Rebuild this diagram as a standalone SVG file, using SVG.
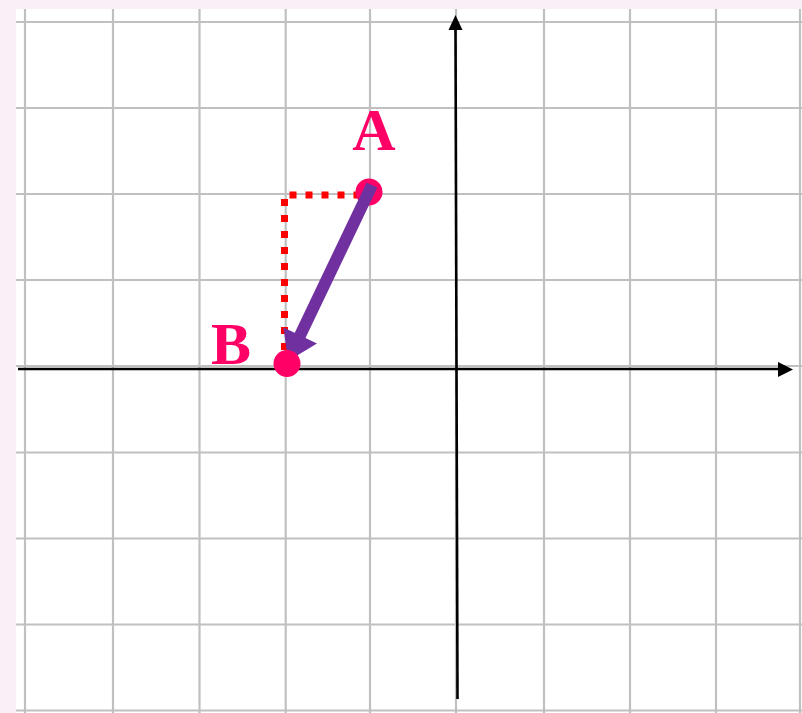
<svg xmlns="http://www.w3.org/2000/svg" width="802" height="713" viewBox="0 0 802 713">
<style>
.grid line{stroke:#c0c0c0;stroke-width:2.2}
.axis{stroke:#000;stroke-width:2.6;fill:none}
.lbl{font-family:"Liberation Serif","Times New Roman",serif;font-weight:bold;font-size:60px;fill:#ff0066}
.pt{fill:#ff0066}
</style>
<rect x="0" y="0" width="802" height="713" fill="#f9eff6"/>
<rect x="16" y="9" width="786" height="704" fill="#ffffff"/>
<g id="grid" class="grid">
<line x1="25" y1="9" x2="25" y2="713"/>
<line x1="113" y1="9" x2="113" y2="713"/>
<line x1="199.5" y1="9" x2="199.5" y2="713"/>
<line x1="285.7" y1="9" x2="285.7" y2="713"/>
<line x1="370" y1="9" x2="370" y2="713"/>
<line x1="456" y1="9" x2="456" y2="713"/>
<line x1="544" y1="9" x2="544" y2="713"/>
<line x1="630" y1="9" x2="630" y2="713"/>
<line x1="716" y1="9" x2="716" y2="713"/>
<line x1="800" y1="9" x2="800" y2="713"/>
<line x1="16" y1="22" x2="802" y2="22"/>
<line x1="16" y1="108" x2="802" y2="108"/>
<line x1="16" y1="194" x2="802" y2="194"/>
<line x1="16" y1="280" x2="802" y2="280"/>
<line x1="16" y1="366" x2="802" y2="366"/>
<line x1="16" y1="452.5" x2="802" y2="452.5"/>
<line x1="16" y1="538.5" x2="802" y2="538.5"/>
<line x1="16" y1="624.5" x2="802" y2="624.5"/>
<line x1="16" y1="710.5" x2="802" y2="710.5"/>
</g>
<g id="axes">
<line class="axis" x1="18" y1="369" x2="780" y2="369"/>
<polygon points="793,369.5 778,362 778,377" fill="#000"/>
<line class="axis" x1="457.5" y1="699" x2="455.5" y2="28"/>
<polygon points="455.5,15 448.5,30 462.5,30" fill="#000"/>
</g>
<g id="connectors">
<polyline points="284.5,350 284.5,195 364,195" fill="none" stroke="#ff0000" stroke-width="7" stroke-dasharray="7 9"/>
</g>
<g id="A">
<circle class="pt" cx="369" cy="192" r="13.5"/>
<text class="lbl" x="374" y="150" text-anchor="middle">A</text>
</g>
<g id="vector">
<line x1="372" y1="185" x2="296" y2="344" stroke="#7030a0" stroke-width="12"/>
<polygon points="288,361 283.5,327.5 317,343.5" fill="#7030a0"/>
</g>
<g id="B">
<circle class="pt" cx="287" cy="363.5" r="13.5"/>
<text class="lbl" x="231" y="364" text-anchor="middle">B</text>
</g>
</svg>
